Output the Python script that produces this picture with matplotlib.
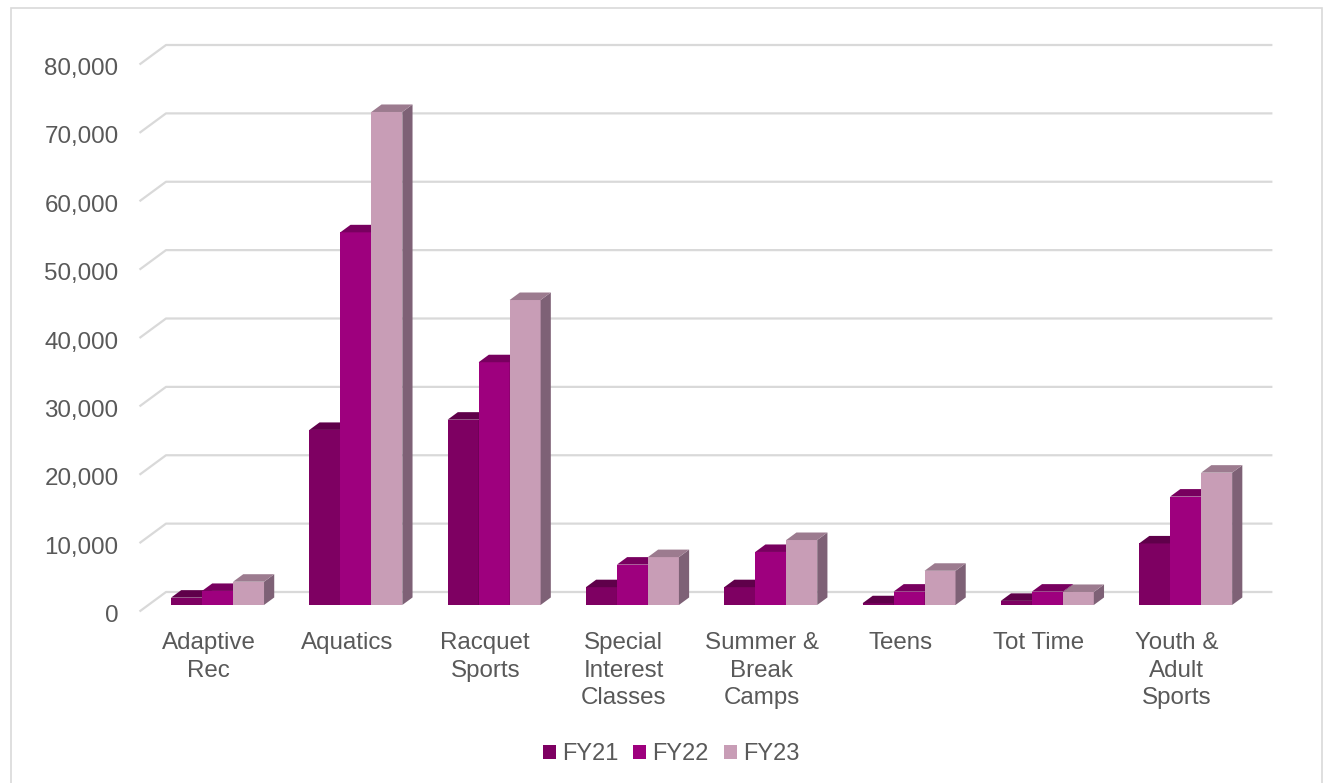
import numpy as np
import matplotlib
matplotlib.use("Agg")
import matplotlib.pyplot as plt
from matplotlib.patches import Polygon, Rectangle, Patch

# data
categories = ["Adaptive\nRec", "Aquatics", "Racquet\nSports", "Special\nInterest\nClasses",
              "Summer &\nBreak\nCamps", "Teens", "Tot Time", "Youth &\nAdult\nSports"]
series = ["FY21", "FY22", "FY23"]
fy21 = [1070, 25600, 27100, 2600, 2600, 250, 600, 9000]
fy22 = [2050, 54500, 35500, 5900, 7750, 1950, 1950, 15850]
fy23 = [3400, 72100, 44600, 7000, 9500, 5000, 1900, 19350]
yticks = [0, 10000, 20000, 30000, 40000, 50000, 60000, 70000, 80000]

front_col = ["#7E0062", "#9E007E", "#C89DB6"]
top_col = ["#5F004A", "#78005F", "#9C7B8F"]
side_col = ["#5A0046", "#73005B", "#7E6176"]
text_col = "#595959"
grid_col = "#D9D9D9"
fs = 17.4

W, H = 1325, 783
fig = plt.figure(figsize=(W / 100, H / 100), dpi=100)
ax = fig.add_axes([0, 0, 1, 1])

# pixel geometry of the oblique projection
x0_px, cat_px = 139.5, 138.3      # front-left edge of floor, width of a category
y0_px, val_px = 611.5, 547 / 80000  # front zero line, px per unit
dx_px, dy_px = 26.5, 19.5          # full depth offset (back wall)
DX = dx_px / cat_px
DY = dy_px / val_px
ax.set_xlim(-0.5 - x0_px / cat_px, -0.5 + (W - x0_px) / cat_px)
ax.set_ylim((y0_px - H) / val_px, y0_px / val_px)
ax.axis("off")

n = len(categories)

# side wall + back wall gridlines
for v in yticks:
    ax.plot([-0.5, -0.5 + DX, n - 0.5 + DX], [v, v + DY, v + DY],
            color=grid_col, lw=1.6, zorder=1, solid_capstyle="butt")
    ax.text(-0.5 - 21 / cat_px, v - 4.5 / val_px, f"{v:,}", ha="right", va="center",
            fontsize=fs, color=text_col, family="Liberation Sans")

d0, d1 = 0.335, 0.72
bw = 31 / cat_px
vals = [fy21, fy22, fy23]
for i in range(n):
    for s in range(3):
        v = vals[s][i]
        xl = i + (s - 1.5) * bw + d0 * DX
        xr = xl + bw
        yb = d0 * DY
        ax.bar(xl, v, width=bw, bottom=yb, align="edge", color=front_col[s],
               edgecolor="none", zorder=2)
        ddx, ddy = (d1 - d0) * DX, (d1 - d0) * DY
        side = [(xr, yb), (xr + ddx, yb + ddy), (xr + ddx, yb + ddy + v), (xr, yb + v)]
        ax.add_patch(Polygon(side, closed=True, fc=side_col[s], ec="none", zorder=2))
        top = [(xl, yb + v), (xr, yb + v), (xr + ddx, yb + v + ddy), (xl + ddx, yb + v + ddy)]
        ax.add_patch(Polygon(top, closed=True, fc=top_col[s], ec="none", zorder=2))

for i, lab in enumerate(categories):
    ax.text(i, -(632 - y0_px) / val_px, lab, ha="center", va="top", fontsize=fs,
            color=text_col, family="Liberation Sans", linespacing=1.33)

handles = [Patch(fc=c, ec="none") for c in front_col]
leg = fig.legend(handles, series, loc="center", bbox_to_anchor=(671 / W, 1 - 754 / H),
                 ncol=3, frameon=False, handlelength=0.55, handleheight=0.55,
                 handletextpad=0.25, columnspacing=0.65,
                 prop={"family": "Liberation Sans", "size": 17})
for t in leg.get_texts():
    t.set_color(text_col)

fig.add_artist(Rectangle((11 / W, -0.02), 1311 / W, (H - 8) / H + 0.02,
                         transform=fig.transFigure, fill=False, ec=grid_col, lw=1.2))

fig.savefig("out.png", dpi=100)
